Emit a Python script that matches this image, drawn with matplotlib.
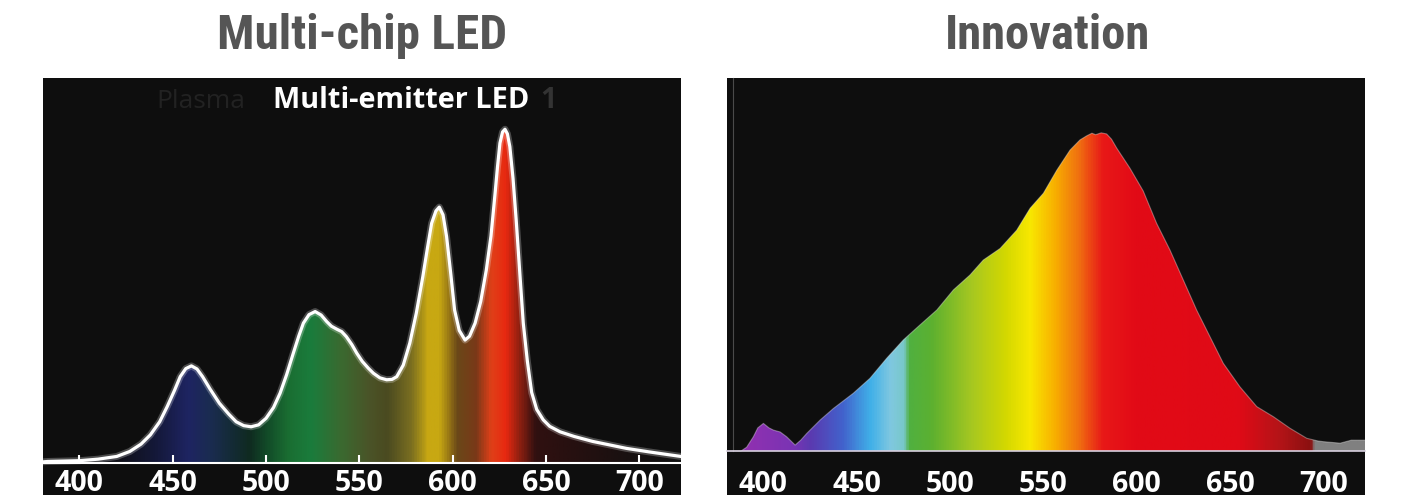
import numpy as np
import matplotlib
matplotlib.use('Agg')
import matplotlib.pyplot as plt
from matplotlib.colors import LinearSegmentedColormap

# Multi-chip LED spectrum (wavelength nm, relative intensity)
led_wl = [380.5, 383, 400, 410, 420, 427, 433, 438, 443, 447, 451, 454, 457, 460,
          463, 466, 470, 475, 480, 484, 488, 492, 496, 500, 504, 507.5, 511, 514.6,
          517.5, 520, 523, 526.3, 529.5, 532.5, 535, 538, 540.5, 543, 546, 548.6,
          551.5, 554.8, 557.5, 561, 564.6, 567.5, 570, 573.5, 577, 580.5, 584, 586.5,
          588.7, 591, 592.8, 594.8, 596.7, 599, 601, 603.5, 606.6, 609, 612, 615,
          618, 620.5, 622.7, 624, 625.3, 626.7, 628, 629.3, 630.6, 632.3, 634, 636,
          637.8, 640, 642.3, 645, 648.5, 652, 657.5, 665, 675, 685, 693, 705, 715,
          722.3]
led_int = [0.4, 0.5, 0.7, 1.1, 1.8, 3.1, 5.0, 7.4, 10.8, 14.7, 19.0, 22.5, 24.6, 25.3,
           24.5, 22.5, 19.3, 15.6, 12.8, 10.8, 9.8, 9.5, 10.0, 11.7, 14.5, 18.2, 23.0, 28.6,
           33.0, 36.4, 38.6, 39.4, 38.5, 36.8, 35.6, 34.8, 34.2, 32.9, 30.8, 28.6,
           26.5, 24.7, 23.4, 22.2, 21.7, 21.8, 22.5, 25.5, 31.2, 39.0, 48.5, 56.0,
           62.3, 65.5, 66.5, 64.5, 58.9, 49.0, 39.8, 34.5, 32.0, 33.0, 36.4, 42.0,
           50.2, 59.0, 70.1, 77.0, 83.1, 86.0, 86.7, 85.5, 82.2, 74.0, 63.2, 49.0,
           36.4, 26.5, 18.4, 14.0, 11.3, 9.6, 8.2, 7.0, 5.7, 4.7, 3.9, 3.0, 2.3,
           1.8]

# Innovation spectrum
inno_wl = [380.5, 388, 391, 394.6, 397, 400, 403, 405.4, 409, 412.5, 417, 420, 423.2,
           430.4, 437.5, 448.2, 457.1, 466.1, 475, 483.9, 492.9, 501.8, 510.7, 517.8,
           526.8, 535.7, 542.9, 550, 557.2, 564.3, 569.6, 573.2, 576, 578, 581, 583.9,
           586.5, 589.3, 596.4, 603.5, 610.7, 617.8, 625, 632.1, 639.3, 646.4, 655.3,
           664.3, 673.2, 682.1, 691.1, 697, 700, 709, 715, 722.3]
inno_int = [0.0, 0.0, 1.0, 3.8, 6.2, 7.4, 6.2, 5.6, 5.1, 3.8, 1.6, 2.9, 4.7,
            8.3, 11.4, 15.5, 19.5, 24.9, 29.8, 33.8, 37.8, 43.2, 47.2, 51.2,
            54.3, 59.2, 65.1, 69.1, 75.3, 80.7, 83.4, 84.5, 85.2, 84.8, 85.3, 85.0,
            83.6, 81.2, 75.8, 69.7, 61.0, 53.9, 45.8, 37.8, 30.6, 23.5, 17.2,
            11.9, 9.2, 6.1, 3.4, 2.7, 2.5, 2.1, 2.9, 2.9]

ticks = [400, 450, 500, 550, 600, 650, 700]

# colours under the curves
led_stop_wl = [380.5, 420, 440, 458, 470, 491, 500, 512, 524, 540, 555, 565, 578,
               587, 593, 603, 613, 621, 629, 636, 645, 700, 722.3]
led_stop_col = ['#0e0e10', '#101018', '#141838', '#1e2462', '#1a2c50', '#0f2a20',
                '#124a28', '#1a6e32', '#1a7c3c', '#3a6a30', '#4a5428', '#4a4a20',
                '#7a6e20', '#c8a812', '#c8a812', '#6a4818', '#7a3818', '#e04018',
                '#e82810', '#902010', '#301010', '#161010', '#101010']
inno_stop_wl = [380.5, 390, 415, 425, 442, 457, 468, 475, 478, 490, 512, 530, 543,
                556, 569, 582, 600, 655, 677, 694, 696, 722.3]
inno_stop_col = ['#8a30b0', '#9030b0', '#7a34b4', '#5a3ab0', '#4262cc', '#40b0e8',
                 '#80c8e0', '#78c8c8', '#50b040', '#5cb030', '#a8c820', '#d4d800',
                 '#f8e800', '#f8b000', '#f07010', '#e81818', '#e20a16', '#e00a16',
                 '#b41418', '#8a1010', '#808080', '#808080']

wl_min, wl_max = 380.5, 722.3
label_font = 'Open Sans'


def spectrum_cmap(stop_wl, stop_col):
    pos = [(w - wl_min) / (wl_max - wl_min) for w in stop_wl]
    return LinearSegmentedColormap.from_list('spec', list(zip(pos, stop_col)))


def draw_panel(ax, wl, inten, cmap, ymin):
    ax.set_facecolor('#0e0e0e')
    grad = np.linspace(wl_min, wl_max, 1000).reshape(1, -1)
    img = ax.imshow(grad, cmap=cmap, extent=[wl_min, wl_max, 0, 100], aspect='auto',
                    origin='lower', vmin=wl_min, vmax=wl_max, zorder=1)
    poly = ax.fill_between(wl, 0, inten, facecolor='none', lw=0)
    img.set_clip_path(poly.get_paths()[0], transform=ax.transData)
    ax.set_xlim(wl_min, wl_max)
    ax.set_ylim(ymin, 100)
    for s in ['top', 'right', 'left']:
        ax.spines[s].set_visible(False)
    ax.spines['bottom'].set_position(('data', 0))
    ax.set_yticks([])
    ax.set_xticks(ticks)
    ax.set_xticklabels([str(t) for t in ticks], fontfamily=label_font, fontweight='bold',
                       fontsize=20.5, color='white')


fig = plt.figure(figsize=(14.12, 5.03), dpi=100, facecolor='white')

# left: multi-chip LED
ax1 = fig.add_axes([43 / 1412, 8 / 503, 638 / 1412, 417 / 503])
draw_panel(ax1, led_wl, led_int, spectrum_cmap(led_stop_wl, led_stop_col), -8.2)
ax1.plot(led_wl, led_int, color='white', lw=5, alpha=0.25, zorder=3, solid_joinstyle='round')
ax1.plot(led_wl, led_int, color='white', lw=2.3, zorder=4, solid_joinstyle='round')
ax1.spines['bottom'].set_color('white')
ax1.spines['bottom'].set_linewidth(1.5)
ax1.spines['bottom'].set_zorder(5)
ax1.tick_params(axis='x', direction='in', length=6, width=1.5, color='white', pad=4)
ax1.text(0.178, 0.928, 'Plasma', transform=ax1.transAxes, fontfamily=label_font,
         fontsize=19, color='#222222', va='baseline')
ax1.text(0.3605, 0.928, 'Multi-emitter LED', transform=ax1.transAxes, fontfamily=label_font,
         fontweight='bold', fontsize=20.8, color='white', va='baseline')
ax1.text(0.779, 0.928, '1', transform=ax1.transAxes, fontfamily=label_font,
         fontweight='bold', fontsize=20.8, color='#333333', va='baseline')

# right: innovation
ax2 = fig.add_axes([727 / 1412, 8 / 503, 638 / 1412, 417 / 503])
draw_panel(ax2, inno_wl, inno_int, spectrum_cmap(inno_stop_wl, inno_stop_col), -11.8)
ax2.plot(inno_wl, inno_int, color='white', lw=0.8, alpha=0.35, zorder=3)
ax2.spines['bottom'].set_color('#d8d0e0')
ax2.spines['bottom'].set_linewidth(1.2)
ax2.spines['bottom'].set_zorder(5)
ax2.spines['left'].set_visible(True)
ax2.spines['left'].set_position(('data', 383.8))
ax2.spines['left'].set_bounds(0, 100)
ax2.spines['left'].set_color('#4a4a4a')
ax2.tick_params(axis='x', length=0, pad=14)

fig.text(362 / 1412, 1 - 49 / 503, 'Multi-chip LED', ha='center', va='baseline',
         fontfamily='Roboto Condensed', fontweight='bold', fontsize=35.5, color='#555555')
fig.text(1047 / 1412, 1 - 49 / 503, 'Innovation', ha='center', va='baseline',
         fontfamily='Roboto Condensed', fontweight='bold', fontsize=35, color='#555555')

plt.savefig('out.png', dpi=100, facecolor='white')
